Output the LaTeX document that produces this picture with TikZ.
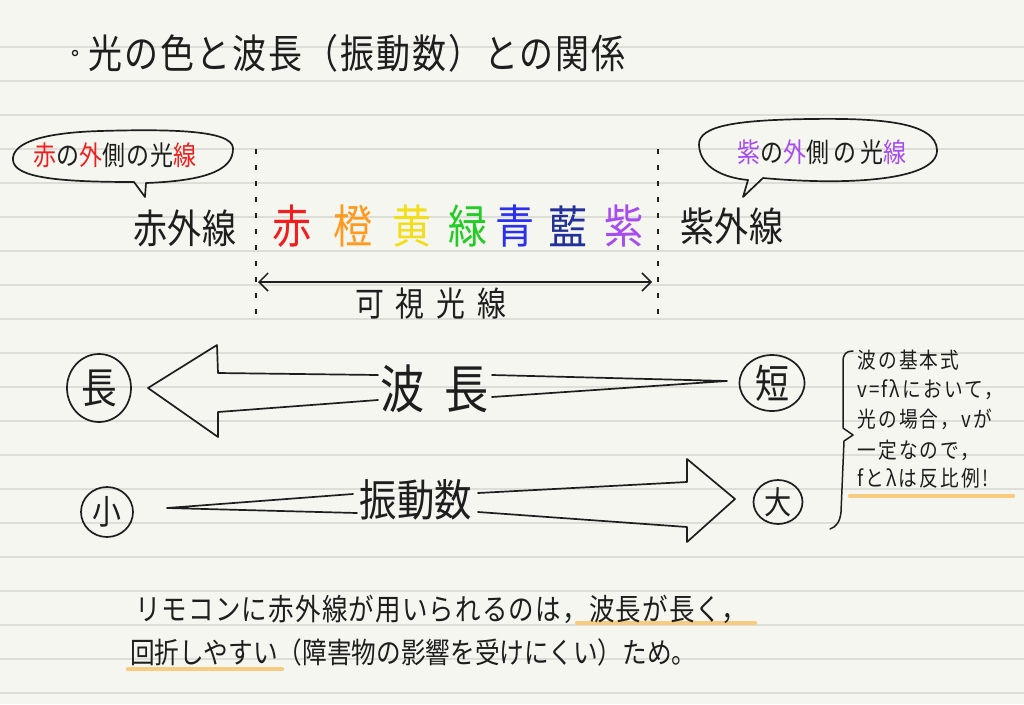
\documentclass[tikz,border=0pt]{standalone}
\usepackage{fontspec}
\newfontfamily\jp[FakeStretch=0.85]{Noto Sans CJK JP}
\usetikzlibrary{arrows.meta,shapes.geometric}
\definecolor{paper}{HTML}{F6F6F1}
\definecolor{rulecol}{HTML}{DEDED8}
\definecolor{ink}{HTML}{1E1E1E}
\definecolor{cred}{HTML}{F01E1E}
\definecolor{corange}{HTML}{FF9A1E}
\definecolor{cyellow}{HTML}{F2DE1A}
\definecolor{cgreen}{HTML}{22CC22}
\definecolor{cblue}{HTML}{2A30EE}
\definecolor{cnavy}{HTML}{22309A}
\definecolor{cpurple}{HTML}{A64CF0}
\definecolor{hl}{HTML}{F6CC80}
\newcommand{\jf}[2]{\jp\fontsize{#1}{#1}\selectfont\addfontfeatures{LetterSpace=#2}}
\begin{document}
\begin{tikzpicture}[x=1pt,y=-1pt,
  txt/.style={inner sep=0pt, text=ink},
  pen/.style={draw=ink, line width=1.7pt, line join=round, line cap=round},
  ruled/.style={draw=rulecol, line width=1.4pt},
  dashline/.style={draw=ink, line width=1.6pt, dash pattern=on 5pt off 11pt},
  marker/.style={draw=hl, line width=4.5pt, line cap=round},
  circ/.style={ellipse, draw=ink, line width=1.7pt, inner sep=0pt, text=ink},
  bubble/.style={draw=ink, line width=1.7pt, line join=round},
  colch/.style={inner sep=0pt, font=\jf{46}{0}}]
\useasboundingbox (0,0) rectangle (1024,704);
\fill[paper] (0,0) rectangle (1024,704);
\foreach \k in {1,...,20} \draw[ruled] (0,13+34*\k) -- (1024,13+34*\k);

% title
\draw[ink, line width=1.3pt] (75,53) circle (2.6);
\node[txt, anchor=west, font=\jf{40}{5}] (title) at (88,53) {光の色と波長（振動数）との関係};

% speech bubbles
\draw[bubble] (134,182) -- (145,197) -- (146,183) .. controls (200,181) and (234,172) .. (233,148)
  .. controls (232,130) and (170,129) .. (100,131) .. controls (35,133) and (12,145) .. (13,160)
  .. controls (14,178) and (60,182) .. (134,182) -- cycle;
\node[txt, anchor=west, font=\jf{27}{4}] (irnote) at (33,155)
  {\textcolor{cred}{赤}の\textcolor{cred}{外}側の光\textcolor{cred}{線}};
\draw[bubble] (748,180) -- (743,197) -- (763,178) .. controls (850,186) and (938,180) .. (937,150)
  .. controls (936,122) and (880,118) .. (810,119) .. controls (740,120) and (698,125) .. (699,145)
  .. controls (700,168) and (725,178) .. (748,180) -- cycle;
\node[txt, anchor=west, font=\jf{27}{15}] (uvnote) at (737,152)
  {\textcolor{cpurple}{紫}の\textcolor{cpurple}{外}側の光\textcolor{cpurple}{線}};

% spectrum row
\node[txt, anchor=west, font=\jf{40}{2}] (ir) at (133,228) {赤外線};
\node[colch, text=cred] (cR) at (292,226) {赤};
\node[colch, text=corange] (cO) at (353,226) {橙};
\node[colch, text=cyellow] (cY) at (412,226) {黄};
\node[colch, text=cgreen] (cG) at (468,226) {緑};
\node[colch, text=cblue] (cB) at (515,226) {青};
\node[colch, text=cnavy] (cN) at (568,226) {藍};
\node[colch, text=cpurple] (cV) at (624,226) {紫};
\node[txt, anchor=west, font=\jf{40}{2}] (uv) at (680,226) {紫外線};

% dashed borders
\coordinate (dl1) at (256,149); \coordinate (dl2) at (256,314);
\coordinate (dr1) at (658,149); \coordinate (dr2) at (658,320);
\draw[dashline] (dl1) -- (dl2);
\draw[dashline] (dr1) -- (dr2);
\coordinate (va) at (258,282); \coordinate (vb) at (652,282);
\draw[draw=ink, line width=1.5pt, {Straight Barb[length=9pt,width=18pt]}-{Straight Barb[length=9pt,width=18pt]}] (va) -- (vb);
\node[txt, anchor=west, font=\jf{34}{35}] (vis) at (355,304) {可視光線};

% wavelength arrow
\node[circ, minimum width=64, minimum height=68, font=\jf{42}{0}] (long) at (99,388) {長};
\node[circ, minimum width=65, minimum height=56, font=\jf{40}{0}] (short) at (772,383) {短};
\node[txt, font=\jf{52}{0}] (wl) at (435,389) {波\hspace{20pt}長};
\draw[pen] (378,375) -- (218,373) -- (217,345) -- (148,388) -- (218,437) -- (218,412) -- (378,400);
\draw[pen] (492,375) -- (727,381) -- (492,397);

% frequency arrow
\node[circ, minimum width=52, minimum height=50, font=\jf{34}{0}] (small) at (107,512) {小};
\node[circ, minimum width=49, minimum height=44, font=\jf{32}{0}] (large) at (778,502) {大};
\node[txt, font=\jf{44}{0}] (fq) at (416,500) {振動数};
\draw[pen] (353,494) -- (167,508) -- (357,513);
\draw[pen] (478,493) -- (687,482) -- (687,459) -- (735,499) -- (687,542) -- (687,527) -- (478,512);

% brace and note
\draw[pen, line width=1.5pt] (853,351) .. controls (846,351) and (843,354) .. (843,362) -- (843,428)
  -- (853,435) -- (844,441) -- (841,512) .. controls (840,522) and (836,527) .. (830,529);
\draw[marker] (850,496) -- (1013,496);
\node[txt, anchor=west, font=\jf{22}{10}] (n1) at (857,360) {波の基本式};
\node[txt, anchor=west, font=\jf{22}{10}] (n2) at (857,390) {v=fλにおいて，};
\node[txt, anchor=west, font=\jf{22}{10}] (n3) at (857,419) {光の場合，vが};
\node[txt, anchor=west, font=\jf{22}{10}] (n4) at (857,450) {一定なので，};
\node[txt, anchor=west, font=\jf{22}{10}] (n5) at (857,478) {fとλは反比例!};

% bottom text
\draw[marker] (577,623) -- (755,623);
\draw[marker] (128,669) -- (282,669);
\node[txt, anchor=west, font=\jf{30}{4}] (b1) at (135,609) {リモコンに赤外線が用いられるのは，波長が長く，};
\node[txt, anchor=west, font=\jf{29}{0}] (b2) at (130,652) {回折しやすい（障害物の影響を受けにくい）ため。};
\end{tikzpicture}
\end{document}
